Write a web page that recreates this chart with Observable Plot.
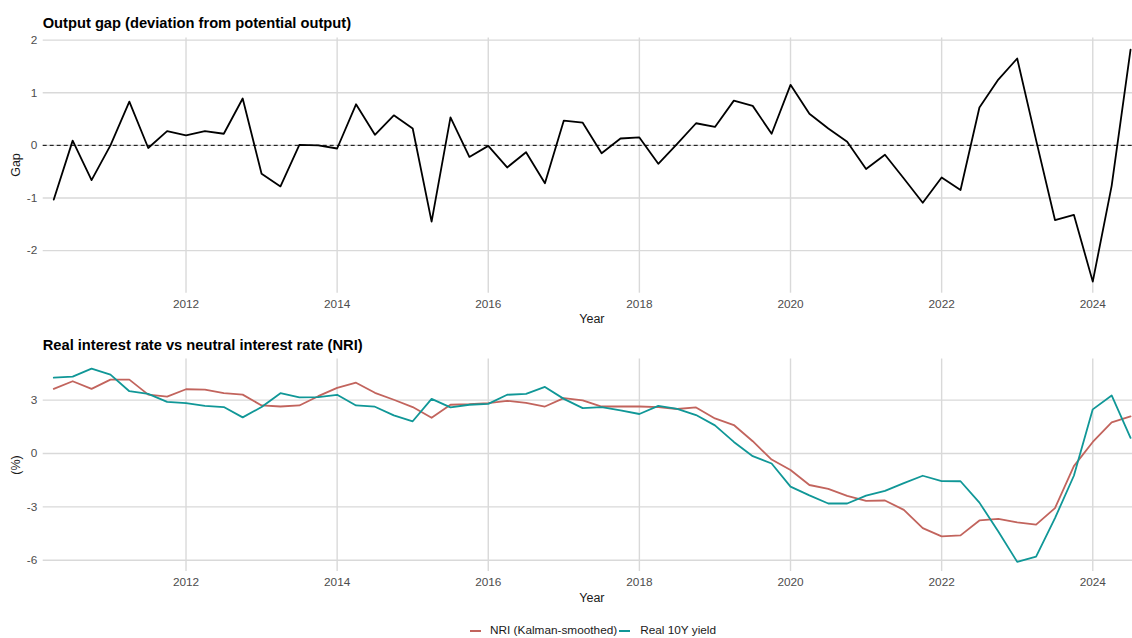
<!DOCTYPE html>
<html>
<head>
<meta charset="utf-8">
<script src="https://cdn.jsdelivr.net/npm/d3@7"></script>
<script src="https://cdn.jsdelivr.net/npm/@observablehq/plot@0.6"></script>
<style>
  html, body { margin: 0; padding: 0; background: #fff; }
  #page { position: relative; width: 1132px; height: 638px; overflow: hidden;
          font-family: "Liberation Sans", Arial, sans-serif; background: #fff; }
  #page svg { position: absolute; left: 0; max-width: none !important; }
  .abs { position: absolute; white-space: nowrap; line-height: 1; }
  .title { font-weight: bold; font-size: 14.7px; color: #000; }
  .axt { font-size: 12.5px; color: #1a1a1a; }
  .rot { transform: translate(-50%, -50%) rotate(-90deg); }
  .legend { display: flex; align-items: center; font-size: 11.8px; color: #1a1a1a; }
  .key { display: inline-block; width: 11px; height: 2px; }
</style>
</head>
<body>
<div id="page"></div>
<script>
// Quarterly observations, 2010Q2 – 2024Q3
const quarters = [
  "2010Q2","2010Q3","2010Q4",
  "2011Q1","2011Q2","2011Q3","2011Q4",
  "2012Q1","2012Q2","2012Q3","2012Q4",
  "2013Q1","2013Q2","2013Q3","2013Q4",
  "2014Q1","2014Q2","2014Q3","2014Q4",
  "2015Q1","2015Q2","2015Q3","2015Q4",
  "2016Q1","2016Q2","2016Q3","2016Q4",
  "2017Q1","2017Q2","2017Q3","2017Q4",
  "2018Q1","2018Q2","2018Q3","2018Q4",
  "2019Q1","2019Q2","2019Q3","2019Q4",
  "2020Q1","2020Q2","2020Q3","2020Q4",
  "2021Q1","2021Q2","2021Q3","2021Q4",
  "2022Q1","2022Q2","2022Q3","2022Q4",
  "2023Q1","2023Q2","2023Q3","2023Q4",
  "2024Q1","2024Q2","2024Q3"
];

// Output gap (deviation from potential output)
const outputGap = [
  -1.03, 0.09, -0.66,
  0.00, 0.83, -0.05, 0.27,
  0.19, 0.27, 0.22, 0.89,
  -0.54, -0.78, 0.01, 0.00,
  -0.06, 0.78, 0.20, 0.57,
  0.32, -1.45, 0.53, -0.22,
  -0.01, -0.42, -0.13, -0.72,
  0.47, 0.43, -0.15, 0.13,
  0.15, -0.35, 0.03, 0.42,
  0.35, 0.85, 0.75, 0.22,
  1.15, 0.60, 0.32, 0.07,
  -0.45, -0.18, -0.63, -1.09,
  -0.61, -0.85, 0.72, 1.25,
  1.65, 0.10, -1.42, -1.32,
  -2.59, -0.77, 1.82
];

// Neutral interest rate (Kalman-smoothed), %
const nri = [
  3.63, 4.06, 3.63,
  4.15, 4.15, 3.31, 3.20,
  3.61, 3.59, 3.39, 3.31,
  2.70, 2.64, 2.70, 3.22,
  3.69, 3.98, 3.41, 3.02,
  2.61, 2.01, 2.74, 2.77,
  2.83, 2.96, 2.85, 2.64,
  3.11, 2.98, 2.64, 2.64,
  2.64, 2.61, 2.50, 2.59,
  1.97, 1.60, 0.69, -0.34,
  -0.93, -1.77, -1.99, -2.38,
  -2.66, -2.64, -3.17, -4.19,
  -4.66, -4.60, -3.76, -3.67,
  -3.87, -4.00, -3.07, -0.71,
  0.65, 1.75, 2.09
];

// Real 10-year yield, %
const real10y = [
  4.26, 4.32, 4.77,
  4.43, 3.50, 3.35, 2.90,
  2.83, 2.68, 2.61, 2.03,
  2.61, 3.39, 3.15, 3.17,
  3.30, 2.70, 2.63, 2.14,
  1.81, 3.07, 2.59, 2.74,
  2.79, 3.30, 3.35, 3.74,
  3.07, 2.55, 2.61, 2.42,
  2.22, 2.68, 2.51, 2.16,
  1.58, 0.65, -0.15, -0.56,
  -1.86, -2.35, -2.81, -2.81,
  -2.37, -2.10, -1.66, -1.25,
  -1.55, -1.56, -2.76, -4.38,
  -6.09, -5.79, -3.63, -1.25,
  2.48, 3.26, 0.88
];

const seriesNames = ["NRI (Kalman-smoothed)", "Real 10Y yield"];
const seriesColors = ["#c2645d", "#109797"];
const yearTicks = [2012, 2014, 2016, 2018, 2020, 2022, 2024];
const gapTicks = [-2, -1, 0, 1, 2];
const rateTicks = [-6, -3, 0, 3];

// quarter label -> fractional year (start of quarter)
const toYear = q => +q.slice(0, 4) + (+q.slice(5) - 1) / 4;

const gapRows = quarters.map((q, i) => ({t: toYear(q), gap: outputGap[i]}));
const rateRows = quarters.flatMap((q, i) => [
  {t: toYear(q), value: nri[i], series: seriesNames[0]},
  {t: toYear(q), value: real10y[i], series: seriesNames[1]}
]);

const xDomain = [2010.11, 2024.645];
const gridStyle = {stroke: "#d9d9d9", strokeOpacity: 1, strokeWidth: 1.4};
const svgStyle = {
  fontFamily: "'Liberation Sans', Arial, sans-serif",
  fontSize: "11.8px",
  color: "#4d4d4d",
  background: "transparent",
  overflow: "visible",
  maxWidth: "none"
};
const fmt = d => String(d);

const page = document.getElementById("page");

// Panel 1: output gap
const gapPlot = Plot.plot({
  width: 1141, height: 330,
  marginTop: 37.5, marginBottom: 37.3, marginLeft: 42.7, marginRight: 0,
  style: svgStyle,
  x: {domain: xDomain},
  y: {domain: [-2.81, 2.04]},
  marks: [
    Plot.gridX(yearTicks, gridStyle),
    Plot.gridY(gapTicks, gridStyle),
    Plot.axisX(yearTicks, {anchor: "bottom", tickSize: 0, tickPadding: 6, tickFormat: fmt, label: null}),
    Plot.axisY(gapTicks, {anchor: "left", tickSize: 0, tickPadding: 6, tickFormat: fmt, label: null}),
    Plot.ruleY([0], {stroke: "#000", strokeWidth: 1, strokeDasharray: "4,3"}),
    Plot.line(gapRows, {x: "t", y: "gap", stroke: "#000", strokeWidth: 1.8})
  ]
});
gapPlot.style.top = "0px";
page.appendChild(gapPlot);

// Panel 2: real rate vs neutral rate
const ratePlot = Plot.plot({
  width: 1141, height: 308,
  marginTop: 28.5, marginBottom: 67, marginLeft: 42.7, marginRight: 0,
  style: svgStyle,
  x: {domain: xDomain},
  y: {domain: [-6.63, 5.31]},
  color: {domain: seriesNames, range: seriesColors},
  marks: [
    Plot.gridX(yearTicks, gridStyle),
    Plot.gridY(rateTicks, gridStyle),
    Plot.axisX(yearTicks, {anchor: "bottom", tickSize: 0, tickPadding: 6, tickFormat: fmt, label: null}),
    Plot.axisY(rateTicks, {anchor: "left", tickSize: 0, tickPadding: 6, tickFormat: fmt, label: null}),
    Plot.line(rateRows, {x: "t", y: "value", z: "series", stroke: "series", strokeWidth: 1.8})
  ]
});
ratePlot.style.top = "330px";
page.appendChild(ratePlot);

// Titles, axis titles and legend
function addText(text, cls, css) {
  const el = document.createElement("div");
  el.className = "abs " + cls;
  el.textContent = text;
  Object.assign(el.style, css);
  page.appendChild(el);
  return el;
}
addText("Output gap (deviation from potential output)", "title", {left: "42.7px", top: "15.9px"});
addText("Real interest rate vs neutral interest rate (NRI)", "title", {left: "42.7px", top: "338px"});

const yearTop = addText("Year", "axt", {left: "591.9px", top: "312.7px"});
yearTop.style.transform = "translateX(-50%)";
const yearBottom = addText("Year", "axt", {left: "591.9px", top: "591.7px"});
yearBottom.style.transform = "translateX(-50%)";

addText("Gap", "axt rot", {left: "16px", top: "165px"});
addText("(%)", "axt rot", {left: "16px", top: "465px"});

const legend = document.createElement("div");
legend.className = "abs legend";
Object.assign(legend.style, {left: "470px", top: "625px"});
seriesNames.forEach((name, i) => {
  const key = document.createElement("span");
  key.className = "key";
  key.style.background = seriesColors[i];
  key.style.marginLeft = i === 0 ? "0px" : "2px";
  key.style.marginRight = i === 0 ? "9px" : "10px";
  const label = document.createElement("span");
  label.textContent = name;
  legend.appendChild(key);
  legend.appendChild(label);
});
page.appendChild(legend);
</script>
</body>
</html>
